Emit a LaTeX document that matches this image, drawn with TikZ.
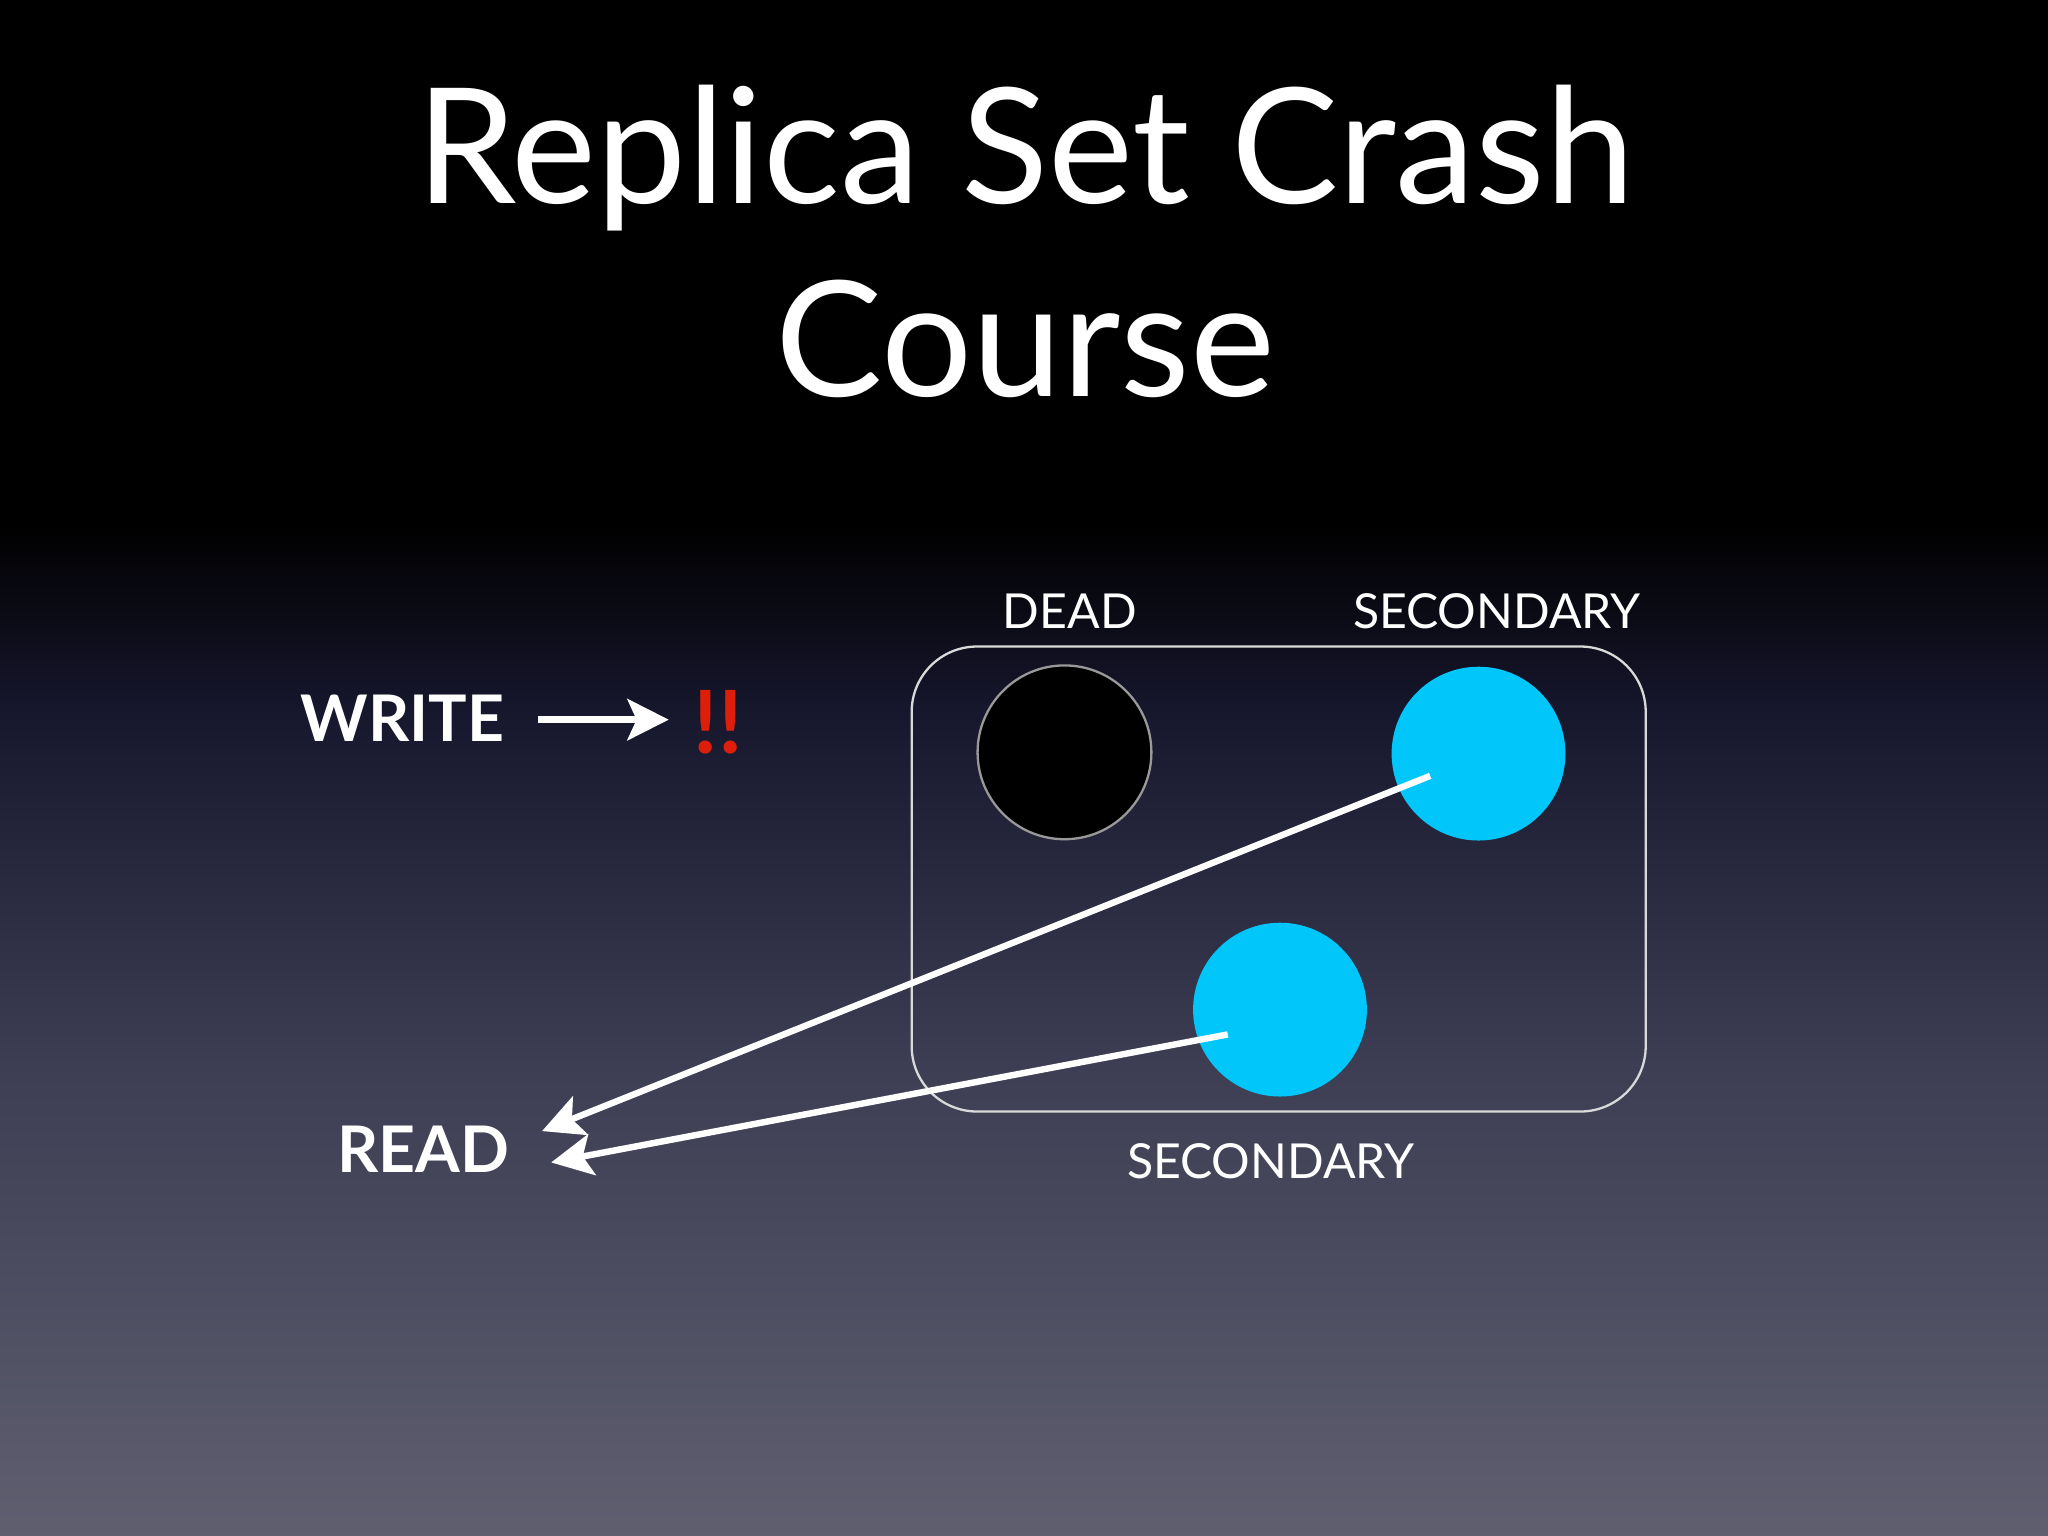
\documentclass[tikz,border=0pt]{standalone}
\usepackage{fontspec}
\setmainfont{Lato}
\usetikzlibrary{arrows.meta}
\definecolor{cyanball}{RGB}{0,198,250}
\definecolor{bangred}{RGB}{220,30,10}
\definecolor{bgA}{RGB}{95,95,112}
\definecolor{bgB}{RGB}{62,62,84}
\definecolor{bgC}{RGB}{22,22,44}
\pgfdeclareverticalshading{bgshade}{100bp}{color(0bp)=(bgA);color(25bp)=(bgA);color(40bp)=(bgB);color(52bp)=(bgC);color(58bp)=(black);color(100bp)=(black)}
\tikzset{
 px/.style={x=0.01cm,y=-0.01cm},
 lbl/.style={text=white,font=\fontsize{10.5}{12}\selectfont,inner sep=0},
 big/.style={text=white,font=\bfseries\fontsize{14}{16}\selectfont,inner sep=0},
 ball/.style={circle,minimum size=1.33cm,inner sep=0},
 wline/.style={white,line width=1.4pt,-{Stealth[length=9pt,width=9pt,inset=2pt]}}
}
\begin{document}
\begin{tikzpicture}[px]
\shade[shading=bgshade] (0,0) rectangle (1568,1176);
\useasboundingbox (0,0) rectangle (1568,1176);
\node[text=white,font=\fontsize{35}{42}\selectfont,align=center] (title) at (785,185) {Replica Set Crash\\Course};
\draw[white!70!gray,line width=0.5pt,rounded corners=0.5cm] (698,495) rectangle (1260,851);
\node[ball,fill=black,draw=gray!80,line width=0.5pt] (dead) at (815,576) {};
\node[ball,fill=cyanball] (sec1) at (1132,577) {};
\node[ball,fill=cyanball] (sec2) at (980,773) {};
\node[lbl] (ldead) at (819,468) {DEAD};
\node[lbl] (lsec1) at (1146,468) {SECONDARY};
\node[lbl] (lsec2) at (973,889) {SECONDARY};
\node[big] (write) at (308,550) {WRITE};
\node[big] (read) at (324,880) {READ};
\node[text=bangred,font=\bfseries\fontsize{19}{22}\selectfont,inner sep=0] (bang) at (550,553) {!!};
\coordinate (wend) at (512,551);
\draw[wline] (412,551) -- (wend);
\coordinate (s1) at (1095,594);
\coordinate (s2) at (940,792);
\coordinate (r1) at (415,866);
\coordinate (r2) at (422,890);
\draw[wline] (s1) -- (r1);
\draw[wline] (s2) -- (r2);
\end{tikzpicture}
\end{document}
